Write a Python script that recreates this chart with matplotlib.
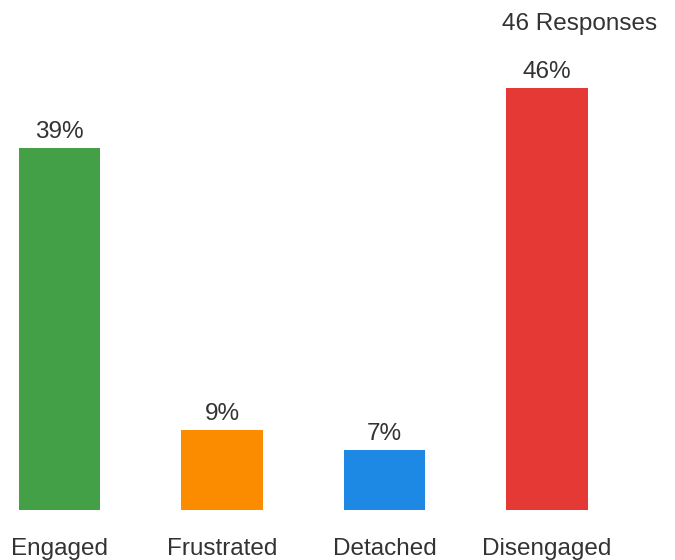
import matplotlib
matplotlib.use("Agg")
import matplotlib.pyplot as plt

categories = ["Engaged", "Frustrated", "Detached", "Disengaged"]
counts = [18, 4, 3, 21]
total = 46
colors = ["#43a047", "#fb8c00", "#1e88e5", "#e53935"]

plt.rcParams['font.family'] = ['Liberation Sans', 'DejaVu Sans']
txt_color = "#333333"
fs = 17.5

fig = plt.figure(figsize=(6.75, 5.6), dpi=100)
ax = fig.add_axes([0, 0, 1, 1])
x = list(range(len(categories)))
ax.bar(x, counts, width=0.5, color=colors)

# pixel mapping: bar centers 59.5 px apart 162.5 px; bottom at 50px from bottom, 20.1 px per count
x0 = -59.5 / 162.5
ax.set_xlim(x0, x0 + 675 / 162.5)
y0 = -50 / 20.1
ax.set_ylim(y0, y0 + 560 / 20.1)
ax.axis("off")

for xi, c in zip(x, counts):
    pct = round(100 * c / total)
    ax.annotate(f"{pct}%", (xi, c), xytext=(0, 10), textcoords="offset pixels",
                ha="center", va="baseline", fontsize=fs, color=txt_color)
    ax.annotate(categories[xi], (xi, 0), xytext=(0, -45), textcoords="offset pixels",
                ha="center", va="baseline", fontsize=fs, color=txt_color)

fig.text(657 / 675, 1 - 30 / 560, f"{total} Responses", ha="right", va="baseline",
         fontsize=fs, color=txt_color)

fig.savefig("out.png", dpi=100, facecolor="white")
